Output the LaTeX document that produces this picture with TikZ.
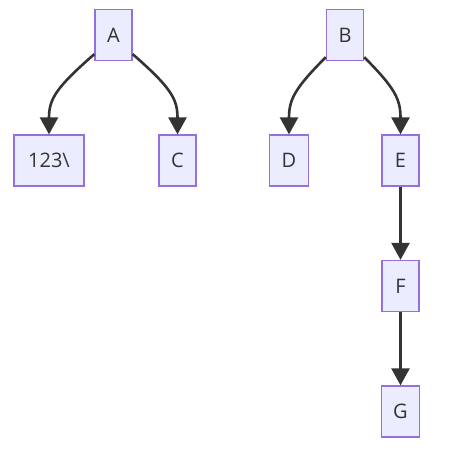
\documentclass[tikz,border=0pt]{standalone}
\usepackage{fontspec}
\setmainfont{Open Sans}
\usetikzlibrary{arrows.meta}
\definecolor{nodefill}{HTML}{ECECFF}
\definecolor{nodeborder}{HTML}{9370DB}
\definecolor{edgecol}{HTML}{333333}
\tikzset{
  box/.style={draw=nodeborder, fill=nodefill, line width=1.3pt, minimum width=37pt, minimum height=51pt, inner xsep=12pt, font=\fontsize{20}{24}\selectfont, text=edgecol},
  edge/.style={draw=edgecol, line width=2.6pt, -{Triangle[length=17pt,width=18pt]}}
}
\begin{document}
\begin{tikzpicture}[x=1pt,y=-1pt]
\useasboundingbox (0,0) rectangle (460,452);
\node[box] (A) at (113.5,35) {A};
\node[box, minimum width=70pt] (n123) at (49,160.5) {123\textbackslash};
\node[box] (C) at (177.5,160.5) {C};
\node[box] (B) at (345,35) {B};
\node[box] (D) at (289,160.5) {D};
\node[box] (E) at (400.5,160.5) {E};
\node[box] (F) at (400.5,286) {F};
\node[box] (G) at (400.5,411.5) {G};
\draw[edge] ([yshift=7pt]A.south west) .. controls +(-39,34) and +(0,-35) .. (n123.north);
\draw[edge] ([yshift=7pt]A.south east) .. controls +(39,34) and +(0,-35) .. (C.north);
\draw[edge] ([yshift=4pt]B.south west) .. controls +(-31,31) and +(0,-35) .. (D.north);
\draw[edge] ([yshift=4pt]B.south east) .. controls +(31,31) and +(0,-35) .. (E.north);
\draw[edge] (E) -- (F);
\draw[edge] (F) -- (G);
\end{tikzpicture}
\end{document}
